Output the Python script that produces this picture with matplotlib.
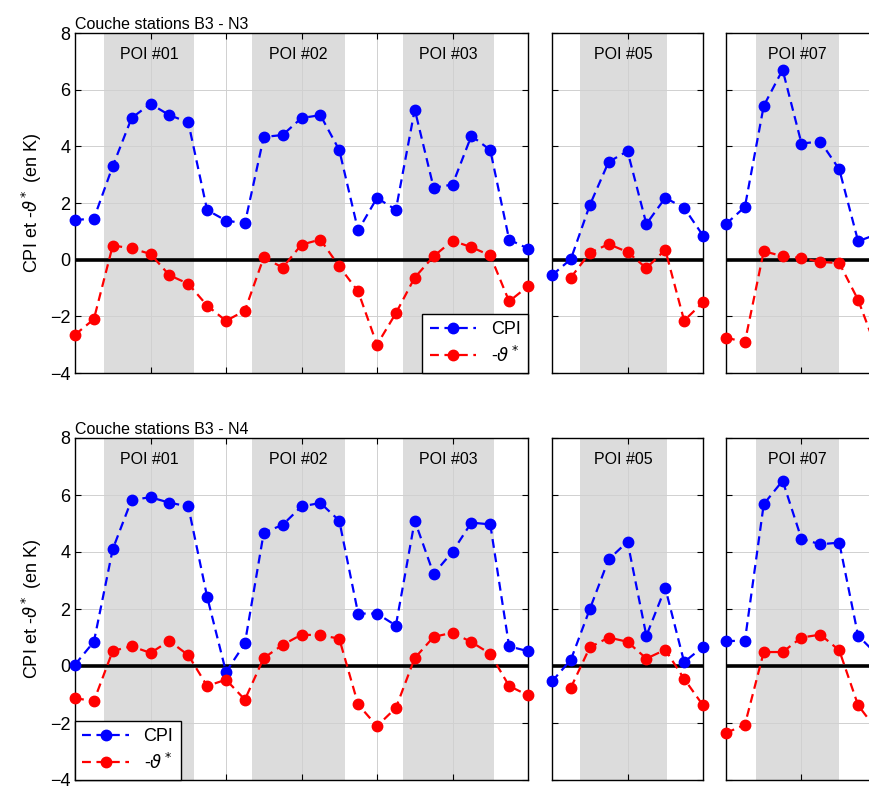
import numpy as np
import matplotlib
matplotlib.use("Agg")
import matplotlib.pyplot as plt

plt.rcParams['font.family'] = ['Liberation Sans', 'DejaVu Sans']
plt.rcParams['mathtext.fontset'] = 'dejavusans'

# --- data (x = time step inside each panel) ---
x_wide = np.arange(25)
x_short = np.arange(9)

# couche B3 - N3
cpi_n3_a = [1.40, 1.45, 3.30, 5.00, 5.50, 5.10, 4.85, 1.75, 1.38, 1.28, 4.33, 4.40,
            5.00, 5.10, 3.87, 1.03, 2.18, 1.76, 5.30, 2.54, 2.65, 4.37, 3.87, 0.71, 0.39]
th_n3_a = [-2.65, -2.10, 0.50, 0.40, 0.20, -0.55, -0.85, -1.62, -2.16, -1.80, 0.08, -0.28,
           0.53, 0.71, -0.24, -1.12, -3.00, -1.89, -0.63, 0.12, 0.67, 0.44, 0.15, -1.47, -0.94]
cpi_n3_b = [-0.55, 0.02, 1.92, 3.45, 3.83, 1.26, 2.18, 1.83, 0.85]
th_n3_b = [np.nan, -0.63, 0.24, 0.55, 0.27, -0.30, 0.35, -2.15, -1.51]
cpi_n3_c = [1.26, 1.86, 5.43, 6.70, 4.10, 4.17, 3.19, 0.65, 0.90]
th_n3_c = [-2.75, -2.91, 0.30, 0.12, 0.06, -0.08, -0.12, -1.42, -3.20]

# couche B3 - N4
cpi_n4_a = [0.05, 0.85, 4.10, 5.83, 5.92, 5.73, 5.60, 2.43, -0.21, 0.79, 4.68, 4.95,
            5.60, 5.72, 5.10, 1.84, 1.84, 1.42, 5.10, 3.23, 4.01, 5.03, 4.97, 0.69, 0.52]
th_n4_a = [-1.13, -1.23, 0.53, 0.69, 0.46, 0.88, 0.38, -0.70, -0.48, -1.18, 0.28, 0.74,
           1.10, 1.08, 0.96, -1.35, -2.11, -1.47, 0.28, 1.02, 1.17, 0.84, 0.43, -0.70, -1.03]
cpi_n4_b = [-0.54, 0.22, 1.99, 3.74, 4.36, 1.06, 2.74, 0.14, 0.67]
th_n4_b = [np.nan, -0.76, 0.65, 1.00, 0.85, 0.26, 0.57, -0.45, -1.38]
cpi_n4_c = [0.88, 0.88, 5.68, 6.50, 4.46, 4.27, 4.33, 1.06, 0.40]
th_n4_c = [-2.35, -2.06, 0.49, 0.49, 1.00, 1.10, 0.55, -1.38, -2.25]

# POI shaded windows
poi_wide = [(1.55, 6.3, 'POI #01'), (9.4, 14.3, 'POI #02'), (17.4, 22.2, 'POI #03')]
poi_b = [(1.5, 6.1, 'POI #05')]
poi_c = [(1.6, 6.0, 'POI #07')]

rows = [
    ('Couche stations B3 - N3',
     [(x_wide, cpi_n3_a, th_n3_a, poi_wide), (x_short, cpi_n3_b, th_n3_b, poi_b),
      (x_short, cpi_n3_c, th_n3_c, poi_c)], 'lower right'),
    ('Couche stations B3 - N4',
     [(x_wide, cpi_n4_a, th_n4_a, poi_wide), (x_short, cpi_n4_b, th_n4_b, poi_b),
      (x_short, cpi_n4_c, th_n4_c, poi_c)], 'lower left'),
]

W, H = 870, 789
fig = plt.figure(figsize=(W / 100, H / 100), dpi=100)

row_px = [(33, 373), (438, 780)]
col_px = [(75, 528), (552, 703), (726, 877)]

th_label = r'-$\vartheta^*$'

for (title, panels, leg_loc), (ytop, ybot) in zip(rows, row_px):
    for i, ((xs, cpi, th, pois), (xl, xr)) in enumerate(zip(panels, col_px)):
        ax = fig.add_axes([xl / W, 1 - ybot / H, (xr - xl) / W, (ybot - ytop) / H])
        xmax = xs[-1]
        for a, b, name in pois:
            ax.axvspan(a, b, color='#dcdcdc', lw=0, zorder=0.2)
            ax.text((a + b) / 2, 7.25, name, ha='center', va='center', fontsize=11.5)
        ax.axhline(0, color='black', lw=2.6, zorder=1.5)
        ax.plot(xs, cpi, color='blue', ls=(0, (4, 2.5)), lw=1.6, marker='o', ms=7.5,
                label='CPI', clip_on=False, zorder=3)
        ax.plot(xs, th, color='red', ls=(0, (4, 2.5)), lw=1.6, marker='o', ms=7.5,
                label=th_label, clip_on=False, zorder=3)
        ax.set_xlim(0, xmax)
        ax.set_ylim(-4, 8)
        ax.set_xticks(np.arange(4, xmax, 4))
        ax.set_yticks(np.arange(-4, 9, 2))
        ax.tick_params(direction='in', length=4, top=True, right=True,
                       labelbottom=False, labelsize=13, width=0.8)
        ax.grid(True, color='#d0d0d0', lw=0.7)
        ax.set_axisbelow(True)
        for s in ax.spines.values():
            s.set_linewidth(1.0)
        if i == 0:
            ax.set_ylabel(r'CPI et -$\vartheta^*$ (en K)', fontsize=13, labelpad=4)
            ax.set_title(title, loc='left', fontsize=11.5, pad=3)
            leg = ax.legend(loc=leg_loc, fontsize=13, handlelength=2.6,
                            fancybox=False, edgecolor='black', framealpha=1,
                            borderaxespad=0, borderpad=0.4, labelspacing=0.4)
            leg.get_frame().set_linewidth(1.0)
        else:
            ax.tick_params(labelleft=False)

fig.savefig('out.png', dpi=100)
